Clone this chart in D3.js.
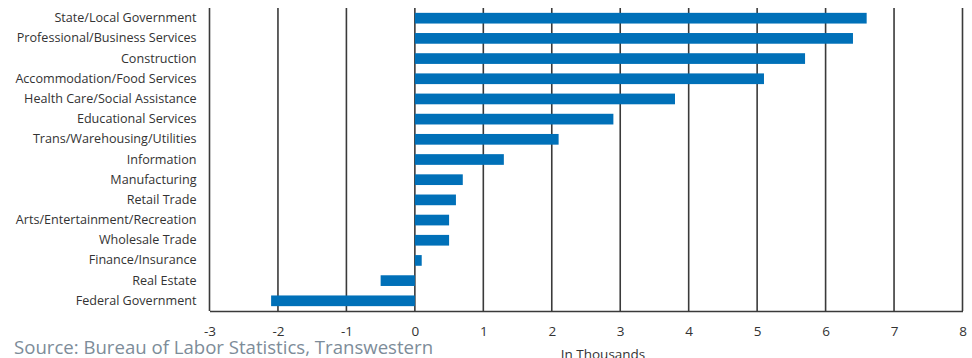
<!DOCTYPE html>
<html>
<head>
<meta charset="utf-8">
<script src="https://cdn.jsdelivr.net/npm/d3@7"></script>
<style>
  html, body { margin: 0; padding: 0; background: #fff; overflow: hidden; }
  svg { display: block; font-family: "Open Sans", "Noto Sans", sans-serif; }
</style>
</head>
<body>
<svg id="chart" width="972" height="358"></svg>
<script>
// Employment change by industry, thousands of jobs
const categories = [
  "State/Local Government",
  "Professional/Business Services",
  "Construction",
  "Accommodation/Food Services",
  "Health Care/Social Assistance",
  "Educational Services",
  "Trans/Warehousing/Utilities",
  "Information",
  "Manufacturing",
  "Retail Trade",
  "Arts/Entertainment/Recreation",
  "Wholesale Trade",
  "Finance/Insurance",
  "Real Estate",
  "Federal Government"
];
const values = [6.6, 6.4, 5.7, 5.1, 3.8, 2.9, 2.1, 1.3, 0.7, 0.6, 0.5, 0.5, 0.1, -0.5, -2.1];
const xTicks = [-3, -2, -1, 0, 1, 2, 3, 4, 5, 6, 7, 8];
const axisTitle = "In Thousands";
const sourceNote = "Source: Bureau of Labor Statistics, Transwestern";

const svg = d3.select("#chart");
const plot = { left: 209.5, right: 962.5, top: 8, bottom: 311 };

const x = d3.scaleLinear().domain([-3, 8]).range([plot.left, plot.right]);
const y = d3.scaleBand().domain(categories).range([plot.top, plot.bottom]).paddingInner(0.47).paddingOuter(0.24);

// vertical gridlines
svg.append("g")
  .selectAll("line")
  .data(xTicks)
  .join("line")
  .attr("x1", d => x(d)).attr("x2", d => x(d))
  .attr("y1", plot.top).attr("y2", plot.bottom)
  .attr("stroke", "#3a3a3a")
  .attr("stroke-width", 1.6);

// bars
svg.append("g")
  .selectAll("rect")
  .data(values)
  .join("rect")
  .attr("x", d => x(Math.min(0, d)))
  .attr("width", d => Math.abs(x(d) - x(0)))
  .attr("y", (d, i) => y(categories[i]))
  .attr("height", y.bandwidth())
  .attr("fill", "#0070b8");

// bottom axis, plain hyphen for negatives
const xAxis = svg.append("g")
  .attr("transform", `translate(0,${plot.bottom})`)
  .call(d3.axisBottom(x).tickValues(xTicks).tickSize(0).tickPadding(15).tickFormat(d => String(d)));
xAxis.select(".domain").attr("stroke", "#3a3a3a").attr("stroke-width", 1.6);
xAxis.selectAll("text")
  .attr("font-size", 13.5)
  .attr("fill", "#333")
  .attr("font-family", "Open Sans, sans-serif");

// category labels
const yAxis = svg.append("g")
  .attr("transform", `translate(${plot.left - 13},0)`)
  .call(d3.axisLeft(y).tickSize(0).tickPadding(0));
yAxis.select(".domain").remove();
yAxis.selectAll("text")
  .attr("font-size", 12.6)
  .attr("fill", "#333")
  .attr("font-family", "Open Sans, sans-serif");

// axis title
svg.append("text")
  .attr("x", 603)
  .attr("y", 359)
  .attr("text-anchor", "middle")
  .attr("font-size", 13.5)
  .attr("fill", "#333")
  .text(axisTitle);

// source note
svg.append("text")
  .attr("x", 14)
  .attr("y", 354)
  .attr("font-size", 18.6)
  .attr("fill", "#7d8c99")
  .text(sourceNote);
</script>
</body>
</html>
